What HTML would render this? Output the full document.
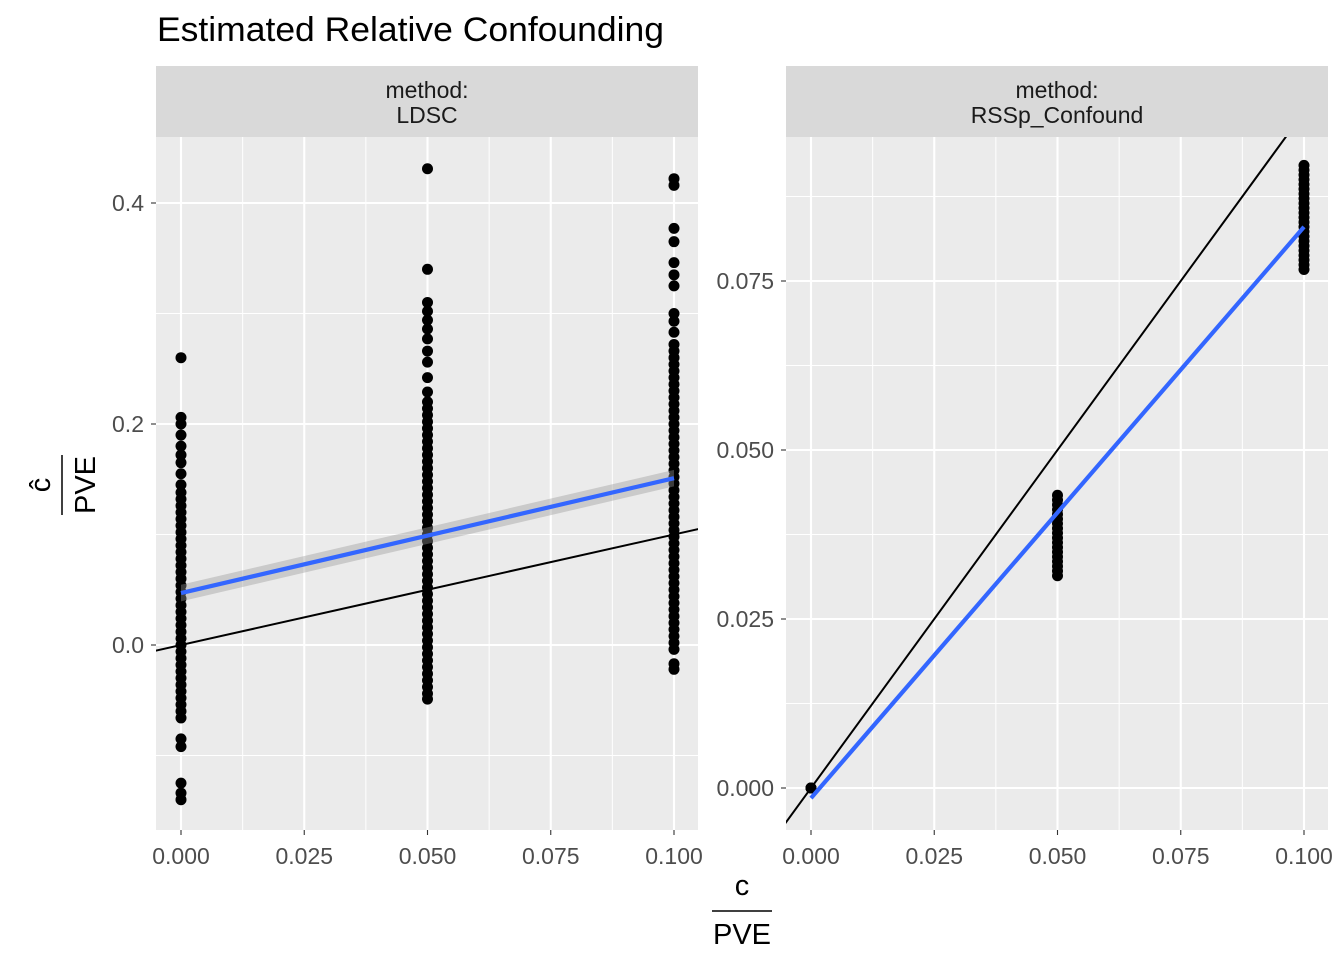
<!DOCTYPE html>
<html><head><meta charset="utf-8">
<style>
html,body{margin:0;padding:0;background:#fff;width:1344px;height:960px;overflow:hidden;}
svg{display:block;font-family:"Liberation Sans",sans-serif;}
</style></head>
<body>
<svg id="chart" width="1344" height="960" viewBox="0 0 1344 960" xmlns="http://www.w3.org/2000/svg">
<text x="157" y="41" font-size="34" textLength="507" lengthAdjust="spacingAndGlyphs" fill="#000">Estimated Relative Confounding</text>
<g transform="translate(62,485) rotate(-90)">
  <text x="0" y="-12" text-anchor="middle" font-size="29">ĉ</text>
  <line x1="-30" y1="0" x2="30" y2="0" stroke="#000" stroke-width="1.5"/>
  <text x="0" y="33" text-anchor="middle" font-size="29">PVE</text>
</g>
<g>
  <text x="742" y="895" text-anchor="middle" font-size="29">c</text>
  <line x1="712" y1="911" x2="772" y2="911" stroke="#000" stroke-width="1.5"/>
  <text x="742" y="944" text-anchor="middle" font-size="29">PVE</text>
</g>
<g id="panels"></g>
</svg>
<script>
// ---- data ----
const categories = [0, 0.05, 0.1];
const xTicks = [0, 0.025, 0.05, 0.075, 0.1];
const xTickLabels = ["0.000", "0.025", "0.050", "0.075", "0.100"];
const ldscYTicks = [0, 0.2, 0.4];
const ldscYTickLabels = ["0.0", "0.2", "0.4"];
const rssYTicks = [0, 0.025, 0.05, 0.075];
const rssYTickLabels = ["0.000", "0.025", "0.050", "0.075"];
const ldscAt0 = [0.26,0.206,0.2,0.19,0.18,0.172,0.165,0.155,0.145,0.138,0.132,0.126,0.12,0.114,0.108,0.102,0.096,0.09,0.084,0.078,0.072,0.066,0.06,0.054,0.048,0.042,0.036,0.03,0.024,0.018,0.012,0.006,0.0,-0.006,-0.012,-0.018,-0.024,-0.03,-0.036,-0.042,-0.048,-0.054,-0.06,-0.066,-0.085,-0.092,-0.125,-0.134,-0.14];
const ldscAt05 = [0.431,0.34,0.31,0.302,0.294,0.286,0.277,0.266,0.256,0.242,0.229,0.22,0.214,0.208,0.202,0.196,0.19,0.184,0.178,0.172,0.166,0.16,0.154,0.148,0.142,0.136,0.13,0.124,0.118,0.112,0.106,0.1,0.094,0.088,0.082,0.076,0.07,0.064,0.058,0.052,0.046,0.04,0.034,0.028,0.022,0.016,0.01,0.004,-0.002,-0.008,-0.014,-0.02,-0.026,-0.032,-0.038,-0.044,-0.049];
const ldscAt10 = [0.422,0.416,0.377,0.365,0.346,0.335,0.325,0.3,0.293,0.283,0.272,0.266,0.26,0.254,0.248,0.242,0.236,0.23,0.224,0.218,0.212,0.206,0.2,0.194,0.188,0.182,0.176,0.17,0.164,0.158,0.152,0.146,0.14,0.134,0.128,0.122,0.116,0.11,0.104,0.098,0.092,0.086,0.08,0.074,0.068,0.062,0.056,0.05,0.044,0.038,0.032,0.026,0.02,0.014,0.008,0.002,-0.004,-0.017,-0.022];
const rssAt0 = [0,0,0];
const rssAt05 = [0.0433,0.0426,0.0419,0.0412,0.0405,0.0398,0.0391,0.0384,0.0377,0.037,0.0363,0.0356,0.0349,0.0342,0.0335,0.0328,0.0321,0.0314];
const rssAt10 = [0.0921,0.0914,0.0907,0.09,0.0893,0.0886,0.0879,0.0872,0.0865,0.0858,0.0851,0.0844,0.0837,0.083,0.0823,0.0816,0.0809,0.0802,0.0795,0.0788,0.0781,0.0774,0.0767];
const ldscFit = [0.047, 0.151];
const ldscFitSE = [0.0075, 0.0075];
const rssFit = [-0.0015, 0.083];

const NS = "http://www.w3.org/2000/svg";
const root = document.getElementById("panels");
function mk(tag, attrs, parent){
  const e = document.createElementNS(NS, tag);
  for (const k in attrs) e.setAttribute(k, attrs[k]);
  (parent||root).appendChild(e);
  return e;
}

function panel(cfg){
  const g = mk("g", {});
  
  
  const L = cfg.left, R = cfg.left + 542, T = 137, B = 830;
  const xs = v => cfg.x0 + v * 4930;
  const ys = v => cfg.y0 - v * cfg.yScale;
  const strip = mk("rect", {x:L, y:66, width:542, height:71, fill:"#d9d9d9"}, g);
  
  
  const s1 = mk("text", {x:(L+R)/2, y:98, "text-anchor":"middle", "font-size":"23", fill:"#1a1a1a"}, g);
  s1.textContent = "method:";
  
  
  const s2 = mk("text", {x:(L+R)/2, y:123, "text-anchor":"middle", "font-size":"23", fill:"#1a1a1a"}, g);
  s2.textContent = cfg.label;
  
  
  mk("rect", {x:L, y:T, width:542, height:B-T, fill:"#ebebeb"}, g);
  const clipId = cfg.name + "-clip";
  const cp = mk("clipPath", {id:clipId}, g);
  mk("rect", {x:L, y:T, width:542, height:B-T}, cp);
  for (let i = 0; i < xTicks.length - 1; i++){
    const x = xs((xTicks[i]+xTicks[i+1])/2);
    mk("line", {x1:x, x2:x, y1:T, y2:B, stroke:"#fff", "stroke-width":1}, g);
  }
  cfg.minorY.forEach(v => { const y = ys(v); mk("line", {x1:L, x2:R, y1:y, y2:y, stroke:"#fff", "stroke-width":1}, g); });
  xTicks.forEach((v,i) => {
    const x = xs(v);
    mk("line", {x1:x, x2:x, y1:T, y2:B, stroke:"#fff", "stroke-width":2.1}, g);
    mk("line", {x1:x, x2:x, y1:B, y2:B+5, stroke:"#333", "stroke-width":1.1}, g);
    const t = mk("text", {x:x, y:B+34, "text-anchor":"middle", "font-size":"23", fill:"#4d4d4d"}, g);
    t.textContent = xTickLabels[i];
    
    
  });
  cfg.yTicks.forEach((v,i) => {
    const y = ys(v);
    mk("line", {x1:L, x2:R, y1:y, y2:y, stroke:"#fff", "stroke-width":2.1}, g);
    mk("line", {x1:L-5, x2:L, y1:y, y2:y, stroke:"#333", "stroke-width":1.1}, g);
    const t = mk("text", {x:L-12, y:y+8, "text-anchor":"end", "font-size":"23", fill:"#4d4d4d"}, g);
    t.textContent = cfg.yLabels[i];
    
    
  });
  const cg = mk("g", {"clip-path":"url(#"+clipId+")"}, g);
  cfg.series.forEach((vals, ci) => {
    vals.forEach(v => {
      const c = mk("circle", {cx:xs(categories[ci]), cy:ys(v), r:5.5, fill:"#000"}, cg);
      
      
    });
  });
  const lo = -0.2, hi = 0.5;
  const idl = mk("line", {x1:xs(lo), y1:ys(lo), x2:xs(hi), y2:ys(hi), stroke:"#000", "stroke-width":2}, cg);
  
  
  if (cfg.se){
    const x0 = xs(categories[0]), x1 = xs(categories[2]);
    const rb = mk("polygon", {points:[
      x0+","+ys(cfg.fit[0]+cfg.se[0]), x1+","+ys(cfg.fit[1]+cfg.se[1]),
      x1+","+ys(cfg.fit[1]-cfg.se[1]), x0+","+ys(cfg.fit[0]-cfg.se[0])].join(" "),
      fill:"#999", "fill-opacity":0.4}, cg);
    
    
  }
  const fl = mk("line", {x1:xs(categories[0]), y1:ys(cfg.fit[0]), x2:xs(categories[2]), y2:ys(cfg.fit[1]), stroke:"#3366ff", "stroke-width":4.2}, cg);
  
  
}

panel({name:"ldsc-panel", label:"LDSC", left:156, x0:181, y0:645, yScale:1105,
  yTicks:ldscYTicks, yLabels:ldscYTickLabels, minorY:[-0.1,0.1,0.3],
  series:[ldscAt0, ldscAt05, ldscAt10], fit:ldscFit, se:ldscFitSE});
panel({name:"rssp-panel", label:"RSSp_Confound", left:786, x0:811, y0:788, yScale:6760,
  yTicks:rssYTicks, yLabels:rssYTickLabels, minorY:[0.0125,0.0375,0.0625,0.0875],
  series:[rssAt0, rssAt05, rssAt10], fit:rssFit, se:null});
</script>
</body></html>
